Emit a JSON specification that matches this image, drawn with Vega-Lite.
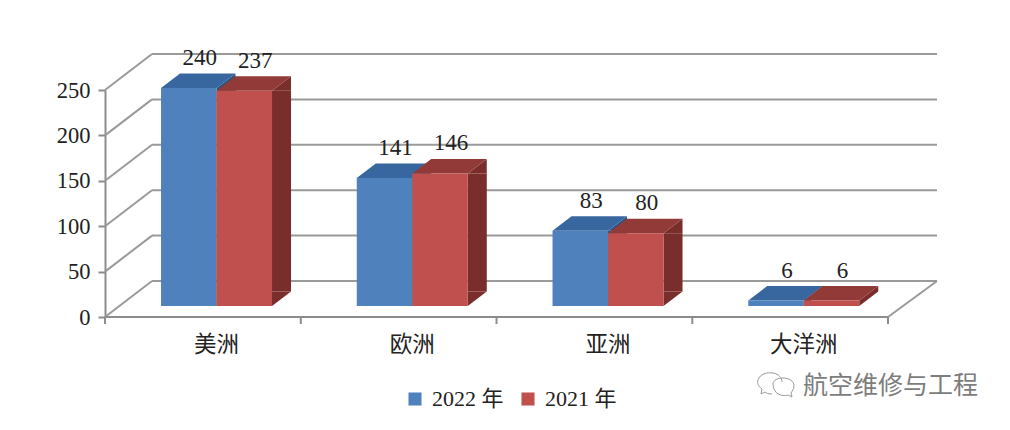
{
"$schema":"https://vega.github.io/schema/vega-lite/v6.json",
"width":783,"height":227,
"autosize":"none",
"padding":{"left":105,"top":90,"right":122,"bottom":113},
"background":"#ffffff",
"config":{"view":{"stroke":null},"font":"Liberation Serif, Noto Sans CJK SC"},
"datasets":{
"bars":[
{"cat":"美洲","series":"2022 年","value":240},
{"cat":"美洲","series":"2021 年","value":237},
{"cat":"欧洲","series":"2022 年","value":141},
{"cat":"欧洲","series":"2021 年","value":146},
{"cat":"亚洲","series":"2022 年","value":83},
{"cat":"亚洲","series":"2021 年","value":80},
{"cat":"大洋洲","series":"2022 年","value":6},
{"cat":"大洋洲","series":"2021 年","value":6}
],
"grid":[{"v":0},{"v":50},{"v":100},{"v":150},{"v":200},{"v":250}],
"floor":[{"v":0}],
"cats":[{"cat":"美洲"},{"cat":"欧洲"},{"cat":"亚洲"},{"cat":"大洋洲"}],
"mark":[{"name":"航空维修与工程"}]
},
"layer":[
{"data":{"name":"grid"},
 "mark":{"type":"rule","color":"#9a9a9a","strokeWidth":2,"yOffset":-36,"y2Offset":-36,"xOffset":47,"x2Offset":49},
 "encoding":{"y":{"field":"v","type":"quantitative","scale":{"domain":[0,250],"nice":false},
   "axis":{"values":[0,50,100,150,200,250],"title":null,"grid":false,"domainColor":"#8c8c8c","domainWidth":2,"tickColor":"#8c8c8c","tickWidth":2,"tickSize":7,"labelFontSize":22.5,"labelColor":"#222222","labelFont":"Liberation Serif","labelPadding":8}},
   "x":{"value":0},"x2":{"value":783}}},
{"data":{"name":"grid"},
 "mark":{"type":"point","shape":"M0,0L47,-36","size":4,"filled":false,"stroke":"#9a9a9a","strokeWidth":2,"opacity":1},
 "encoding":{"y":{"field":"v","type":"quantitative"},"x":{"value":0}}},
{"data":{"name":"floor"},
 "mark":{"type":"point","shape":"M0,0L49,-36","size":4,"filled":false,"stroke":"#9a9a9a","strokeWidth":2,"opacity":1},
 "encoding":{"y":{"field":"v","type":"quantitative"},"x":{"value":783}}},
{"data":{"name":"floor"},
 "mark":{"type":"rule","color":"#8c8c8c","strokeWidth":2},
 "encoding":{"y":{"field":"v","type":"quantitative"},"x":{"value":0},"x2":{"value":783}}},
{"data":{"name":"floor"},
 "mark":{"type":"point","shape":"M0,0L0,7","size":4,"filled":false,"stroke":"#8c8c8c","strokeWidth":2,"opacity":1},
 "encoding":{"y":{"field":"v","type":"quantitative"},"x":{"value":783}}},
{"data":{"name":"cats"},
 "mark":{"type":"point","shape":"M-111.5,0L-111.5,7","size":4,"filled":false,"stroke":"#8c8c8c","strokeWidth":2,"opacity":1},
 "encoding":{"y":{"datum":0},"x":{"field":"cat","type":"nominal"}}},
{"data":{"name":"bars"},
 "transform":[{"filter":"datum.value>20 && datum.series==='2022 年'"}],
 "mark":{"type":"rule","strokeWidth":19,"xOffset":9.5,"yOffset":-11,"y2Offset":-25.5,"color":"#2F5382"},
 "encoding":{
  "x":{"field":"cat","type":"nominal"},
  "y":{"field":"value","type":"quantitative","stack":null},
  "y2":{"datum":0}}},
{"data":{"name":"bars"},
 "transform":[{"filter":"datum.value>20 && datum.series==='2021 年'"}],
 "mark":{"type":"rule","strokeWidth":19,"xOffset":65,"yOffset":-11,"y2Offset":-25.5,"color":"#7A2E2B"},
 "encoding":{
  "x":{"field":"cat","type":"nominal"},
  "y":{"field":"value","type":"quantitative","stack":null},
  "y2":{"datum":0}}},
{"data":{"name":"bars"},
 "transform":[{"filter":"datum.value>20"}],
 "mark":{"type":"point","shape":"M27.75,0L46.75,-14.5L46.75,0Z","size":4,"filled":true,"opacity":1,"yOffset":-11},
 "encoding":{
  "x":{"field":"cat","type":"nominal"},
  "xOffset":{"field":"series","type":"nominal"},
  "y":{"field":"value","type":"quantitative","stack":null},
  "fill":{"condition":{"test":"datum.series==='2022 年'","value":"#2F5382"},"value":"#7A2E2B"}}},
{"data":{"name":"bars"},
 "transform":[{"filter":"datum.value>20"}],
 "mark":{"type":"point","shape":"M27.75,0L46.75,-14.5L27.75,-14.5Z","size":4,"filled":true,"opacity":1,"yOffset":-11},
 "encoding":{
  "x":{"field":"cat","type":"nominal"},
  "xOffset":{"field":"series","type":"nominal"},
  "y":{"datum":0},
  "fill":{"condition":{"test":"datum.series==='2022 年'","value":"#2F5382"},"value":"#7A2E2B"}}},
{"data":{"name":"bars"},
 "transform":[{"filter":"datum.value<=20"}],
 "mark":{"type":"point","shape":"M27.75,0L46.75,-14.5L46.75,-9L27.75,5.4Z","size":4,"filled":true,"opacity":1,"yOffset":-11},
 "encoding":{
  "x":{"field":"cat","type":"nominal"},
  "xOffset":{"field":"series","type":"nominal"},
  "y":{"field":"value","type":"quantitative","stack":null},
  "fill":{"condition":{"test":"datum.series==='2022 年'","value":"#2F5382"},"value":"#7A2E2B"}}},
{"data":{"name":"bars"},
 "mark":{"type":"point","shape":"M-27.75,0L-8.75,-14.5L46.75,-14.5L27.75,0Z","size":4,"filled":true,"opacity":1,"yOffset":-11},
 "encoding":{
  "x":{"field":"cat","type":"nominal"},
  "xOffset":{"field":"series","type":"nominal"},
  "y":{"field":"value","type":"quantitative","stack":null},
  "fill":{"condition":{"test":"datum.series==='2022 年'","value":"#38669E"},"value":"#923A37"}}},
{"data":{"name":"bars"},
 "mark":{"type":"bar","yOffset":-11,"y2Offset":-11},
 "encoding":{
  "x":{"field":"cat","type":"nominal","scale":{"domain":["美洲","欧洲","亚洲","大洋洲"],"range":[13.65,796.65],"paddingInner":0.433,"paddingOuter":0.2165},
   "axis":{"title":null,"ticks":false,"domain":false,"labelAngle":0,"labelAlign":"center","labelFontSize":22.5,"labelColor":"#222222","labelFont":"Liberation Serif, Noto Sans CJK SC","labelPadding":27}},
  "xOffset":{"field":"series","type":"nominal","sort":["2022 年","2021 年"],"scale":{"domain":["2022 年","2021 年"]}},
  "y":{"field":"value","type":"quantitative","stack":null},
  "y2":{"datum":0},
  "fill":{"field":"series","type":"nominal","scale":{"domain":["2022 年","2021 年"],"range":["#4F81BD","#C0504D"]},
   "legend":{"title":null,"orient":"none","legendX":299,"legendY":298,"direction":"horizontal","symbolType":"square","symbolSize":170,"symbolStrokeWidth":0,"labelFontSize":22,"labelColor":"#222222","labelFont":"Liberation Serif, Noto Sans CJK SC","columnPadding":13,"labelOffset":6}}}},
{"data":{"name":"bars"},
 "mark":{"type":"text","fontSize":23,"font":"Liberation Serif","color":"#222222","dx":11,"yOffset":-41,"baseline":"middle"},
 "encoding":{
  "x":{"field":"cat","type":"nominal"},
  "xOffset":{"field":"series","type":"nominal"},
  "y":{"field":"value","type":"quantitative","stack":null},
  "text":{"field":"value","type":"quantitative"}}},
{"data":{"name":"mark"},
 "mark":{"type":"text","fontSize":25,"font":"Noto Sans CJK SC","color":"#7d7d7d","align":"left","baseline":"middle"},
 "encoding":{"x":{"value":698},"y":{"value":296},"text":{"field":"name"}}},
{"data":{"name":"mark"},
 "mark":{"type":"point","shape":"M-5,7C-9,7 -11,6 -12,5L-16,7L-15,2C-19,-1 -20,-4 -19,-7C-17,-13 -10,-15 -4,-14C2,-13 5,-9 5,-5M-4,-3C-4,-7 1,-9 6,-9C12,-9 17,-6 17,-1C17,2 15,4 14,6L15,10L11,8C5,10 -4,7 -4,-3Z","size":4,"filled":false,"stroke":"#9a9a9a","strokeWidth":1,"opacity":1},
 "encoding":{"x":{"value":672},"y":{"value":297}}}
]
}
